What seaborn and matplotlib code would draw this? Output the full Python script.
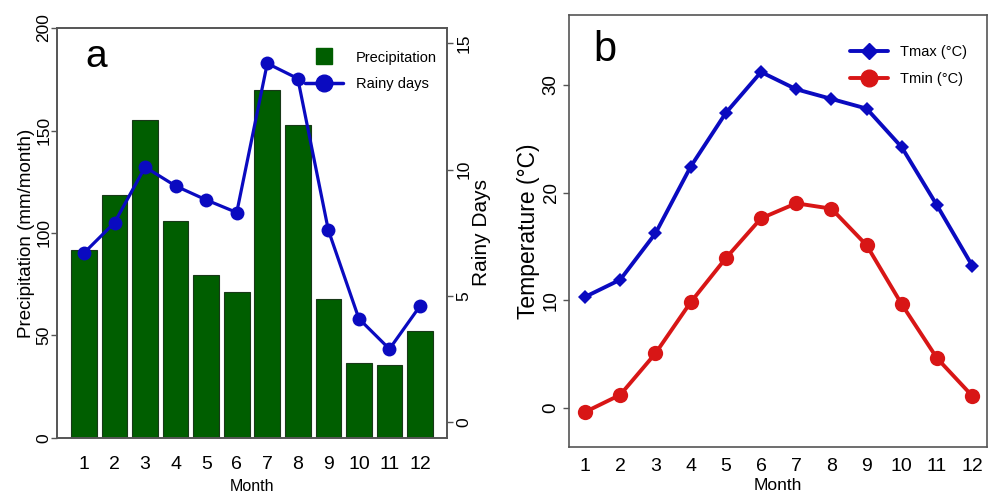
import matplotlib
matplotlib.use("Agg")
import matplotlib.pyplot as plt
import seaborn as sns
import pandas as pd
from matplotlib.lines import Line2D

# Monthly climate data
months = [1, 2, 3, 4, 5, 6, 7, 8, 9, 10, 11, 12]
precip = [91.7, 118.5, 155.1, 106.0, 79.7, 71.2, 170.0, 152.5, 67.8, 36.7, 35.4, 52.3]
rainy_days = [6.7, 7.9, 10.1, 9.35, 8.8, 8.3, 14.2, 13.6, 7.6, 4.1, 2.9, 4.6]
tmax = [10.3, 11.9, 16.2, 22.4, 27.4, 31.2, 29.6, 28.7, 27.8, 24.2, 18.8, 13.2]
tmin = [-0.4, 1.2, 5.05, 9.8, 13.9, 17.6, 19.0, 18.5, 15.1, 9.6, 4.6, 1.1]

GREEN = "#005e00"
BLUE = "#0a0ac0"
RED = "#d81616"
SPINE = "#555555"

sns.set_style("ticks")
plt.rcParams["font.family"] = ["Liberation Sans", "DejaVu Sans"]
plt.rcParams["text.color"] = "black"
plt.rcParams["axes.labelcolor"] = "black"
plt.rcParams["xtick.labelcolor"] = "black"
plt.rcParams["ytick.labelcolor"] = "black"

df = pd.DataFrame({"Month": months, "Precipitation": precip,
                   "Rainy days": rainy_days, "Tmax": tmax, "Tmin": tmin})

fig = plt.figure(figsize=(9.89, 4.95), dpi=100)
ax_a = fig.add_axes([0.0576, 0.1152, 0.3944, 0.8282])
ax_b = fig.add_axes([0.5757, 0.0976, 0.4223, 0.8721])

# ---- panel a: precipitation bars + rainy days line ----
sns.barplot(data=df, x="Month", y="Precipitation", native_scale=True,
            width=0.84, color=GREEN, saturation=1, edgecolor="#183818",
            linewidth=0.8, ax=ax_a)
ax_a.set_xlim(0.115, 12.885)
ax_a.set_ylim(0, 200)
ax_a.set_yticks([0, 50, 100, 150, 200])
ax_a.set_xticks(months)
ax_a.set_xticklabels([str(m) for m in months], fontsize=14)
ax_a.tick_params(axis="x", length=0, pad=13)
ax_a.tick_params(axis="y", length=4, width=1, color=SPINE, pad=0, labelsize=12.5)
for lab in ax_a.get_yticklabels():
    lab.set_rotation(90)
    lab.set_va("center")
ax_a.set_xlabel("Month", fontsize=11.5, labelpad=4)
ax_a.set_ylabel("Precipitation (mm/month)", fontsize=13.5, labelpad=1)

ax_a2 = ax_a.twinx()
sns.lineplot(data=df, x="Month", y="Rainy days", color=BLUE, marker="o",
             markersize=10, markeredgewidth=0, linewidth=2.3, ax=ax_a2,
             legend=False)
ax_a2.set_ylim(-0.62, 15.6)
ax_a2.set_yticks([0, 5, 10, 15])
ax_a2.tick_params(axis="y", length=4, width=1, color=SPINE, pad=3, labelsize=12.5)
for lab in ax_a2.get_yticklabels():
    lab.set_rotation(90)
    lab.set_va("center")
ax_a2.set_ylabel("Rainy Days", fontsize=15, labelpad=0, rotation=90)

for ax in (ax_a, ax_a2):
    for s in ax.spines.values():
        s.set_visible(True)
        s.set_color(SPINE)
        s.set_linewidth(1.2)

handles_a = [
    Line2D([], [], color=GREEN, marker="s", markersize=12, linestyle="none"),
    Line2D([], [], color=BLUE, marker="o", markersize=12, linewidth=2.5),
]
ax_a2.legend(handles_a, ["Precipitation", "Rainy days"], loc="upper left",
             bbox_to_anchor=(0.636, 0.945), frameon=False, borderpad=0,
             borderaxespad=0, handlelength=2.6, handletextpad=0.9,
             labelspacing=0.85, prop={"size": 10.5})
ax_a.text(0.1, 0.93, "a", transform=ax_a.transAxes, fontsize=28,
          ha="center", va="center")

# ---- panel b: temperature ----
sns.lineplot(data=df, x="Month", y="Tmax", color=BLUE, marker="D",
             markersize=7, markeredgewidth=0, linewidth=2.8, ax=ax_b,
             legend=False)
sns.lineplot(data=df, x="Month", y="Tmin", color=RED, marker="o",
             markersize=11, markeredgewidth=0, linewidth=2.8, ax=ax_b,
             legend=False)
ax_b.set_xlim(0.555, 12.42)
ax_b.set_ylim(-3.62, 36.5)
ax_b.set_xticks(months)
ax_b.set_xticklabels([str(m) for m in months], fontsize=14)
ax_b.set_yticks([0, 10, 20, 30])
ax_b.tick_params(axis="x", length=0, pad=8)
ax_b.tick_params(axis="y", length=4, width=1, color=SPINE, pad=3, labelsize=13.5)
for lab in ax_b.get_yticklabels():
    lab.set_rotation(90)
    lab.set_va("center")
ax_b.set_xlabel("Month", fontsize=12.5, labelpad=2)
ax_b.set_ylabel("Temperature (°C)", fontsize=16.5, labelpad=2)
for s in ax_b.spines.values():
    s.set_visible(True)
    s.set_color(SPINE)
    s.set_linewidth(1.2)

handles_b = [
    Line2D([], [], color=BLUE, marker="D", markersize=8, linewidth=2.8),
    Line2D([], [], color=RED, marker="o", markersize=12, linewidth=2.8),
]
ax_b.legend(handles_b, ["Tmax (°C)", "Tmin (°C)"], loc="upper left",
            bbox_to_anchor=(0.672, 0.93), frameon=False, borderpad=0,
            borderaxespad=0, handlelength=2.6, handletextpad=0.8,
            labelspacing=0.85, prop={"size": 10.5})
ax_b.text(0.085, 0.92, "b", transform=ax_b.transAxes, fontsize=30,
          ha="center", va="center")

fig.savefig("out.png", dpi=100)
